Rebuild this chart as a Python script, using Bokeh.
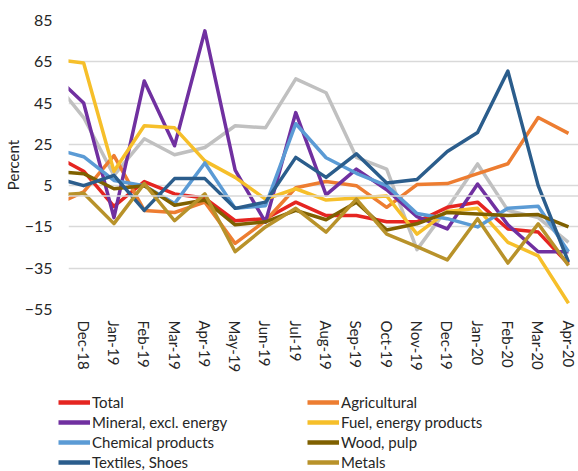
from bokeh.plotting import figure
from bokeh.models import Range1d, FixedTicker, Legend, LegendItem, Span
from bokeh.embed import file_html
from bokeh.resources import INLINE

# Months: the first one (Nov-18) is only visible as the clipped segment at the left edge
months = ["Nov-18", "Dec-18", "Jan-19", "Feb-19", "Mar-19", "Apr-19", "May-19", "Jun-19",
          "Jul-19", "Aug-19", "Sep-19", "Oct-19", "Nov-19", "Dec-19", "Jan-20", "Feb-20",
          "Mar-20", "Apr-20"]

total = [20, 12, -5, 7, 1, -1, -12, -11, -3, -9.5, -9.5, -12.5, -12.5, -5.5, -3, -16, -17.5, -33]
agricultural = [-4.8, 2, 19.5, -7, -8, -3, -23, -12, 4, 7, 5, -5.5, 5.5, 6, 10.8, 15.6, 38, 30.3]
mineral = [59, 45, -10.5, 55.7, 24.3, 80, 12.5, -12.7, 40.4, 0.5, 13, 3, -10, -16, 5.8, -14, -27, -27]
fuel = [66.4, 64.4, 12, 34, 33, 17, 9, -1.5, 3.5, -2, -1, 0, -18.5, -7.5, -6, -22.5, -29, -52]
chemical = [23, 19, 7.5, 5, -3.7, 16, -6, -4.7, 35, 18.5, 11, 5, -8.5, -11, -15, -6, -5, -27]
wood = [12, 10.8, 3.5, 5, -4.5, -2, -14, -12.5, -7, -11.5, -3, -16.5, -13.5, -8, -8.7, -9.5, -9, -15]
textiles = [9, 5, 10, -7, 8.4, 8.4, -6, -3, 18.7, 9, 20.4, 6.3, 8, 21.5, 30.7, 60.5, 5, -32]
metals = [0.3, 1.3, -13.4, 6, -12, 1, -27, -15, -6, -17.5, -1.5, -18.5, -24.5, -31, -11, -32.5, -13.5, -33.7]
other = [56, 38, 10, 27.7, 20, 23.5, 34, 33, 56.7, 50, 18.7, 13, -26, -6, 15.5, -7, -10.5, -22.5]

y_ticks = [-55, -35, -15, 5, 25, 45, 65, 85]

names = ["Total", "Agricultural", "Mineral, excl. energy", "Fuel, energy products",
         "Chemical products", "Wood, pulp", "Textiles, Shoes", "Metals"]
values = [total, agricultural, mineral, fuel, chemical, wood, textiles, metals]
colors = ["#E52521", "#ED7D31", "#7030A0", "#F6BF2A", "#5B9BD5", "#7F6000", "#2B5D8C", "#B8922A"]

xs = [i - 1 for i in range(len(months))]

FONT = "Lato"
TXT = "#262626"

p = figure(width=578, height=380, output_backend="svg", toolbar_location=None,
           x_range=Range1d(-0.5, 16.33), y_range=Range1d(-55, 85),
           min_border_left=67, min_border_right=0, min_border_top=20, min_border_bottom=71)
p.outline_line_color = None
p.xgrid.grid_line_color = None
p.ygrid.grid_line_color = "#d9d9d9"
p.ygrid.grid_line_width = 1.5

for ax in (p.xaxis, p.yaxis):
    ax.axis_line_color = None
    ax.major_tick_line_color = None
    ax.minor_tick_line_color = None
    ax.major_tick_out = 0
    ax.major_tick_in = 0
    ax.minor_tick_out = 0
    ax.minor_tick_in = 0

p.yaxis.ticker = FixedTicker(ticks=y_ticks)
p.yaxis.major_label_standoff = 16
p.yaxis.major_label_text_font = FONT
p.yaxis.major_label_text_font_size = "16px"
p.yaxis.major_label_text_color = TXT
p.yaxis.axis_label = "Percent"
p.yaxis.axis_label_text_font = FONT
p.yaxis.axis_label_text_font_size = "15px"
p.yaxis.axis_label_text_font_style = "normal"
p.yaxis.axis_label_text_color = TXT
p.yaxis.axis_label_standoff = 0

tick_idx = list(range(0, len(months) - 1))
p.xaxis.ticker = FixedTicker(ticks=tick_idx)
p.xaxis.major_label_overrides = {i: months[i + 1] for i in tick_idx}
p.xaxis.major_label_orientation = "vertical"
p.xaxis.major_label_standoff = 11
p.xaxis.major_label_text_font = FONT
p.xaxis.major_label_text_font_size = "15px"
p.xaxis.major_label_text_color = TXT

p.add_layout(Span(location=0, dimension="width", line_color="#d9d9d9", line_width=1.5))

p.line(xs, other, line_color="#C0C0C0", line_width=3.5, line_join="round")
for name, vals, col in zip(names, values, colors):
    p.line(xs, vals, line_color=col, line_width=3.5, line_join="round")

# Legend lives in its own small figure under the chart (its lines are outside the view)
lg = figure(width=578, height=91, output_backend="svg", toolbar_location=None,
            x_axis_type=None, y_axis_type=None, min_border=0,
            min_border_left=0, min_border_right=0, min_border_top=0, min_border_bottom=0,
            x_range=Range1d(1000, 1001), y_range=Range1d(1000, 1001))
lg.outline_line_color = None
lg.xgrid.grid_line_color = None
lg.ygrid.grid_line_color = None
key = {}
for name, vals, col in zip(names, values, colors):
    key[name] = lg.line(xs, vals, line_color=col, line_width=4.5)

order = ["Total", "Mineral, excl. energy", "Chemical products", "Textiles, Shoes",
         "Agricultural", "Fuel, energy products", "Wood, pulp", "Metals"]
legend = Legend(items=[LegendItem(label=n, renderers=[key[n]]) for n in order],
                location=(58, -1), orientation="vertical", nrows=4,
                glyph_width=32, glyph_height=20, label_height=20, label_width=215,
                label_standoff=2, spacing=0, padding=0, margin=0,
                label_text_font=FONT, label_text_font_size="15px", label_text_color=TXT,
                background_fill_alpha=0, border_line_alpha=0)
lg.add_layout(legend, "center")

open("out.html", "w").write(file_html([p, lg], INLINE))
